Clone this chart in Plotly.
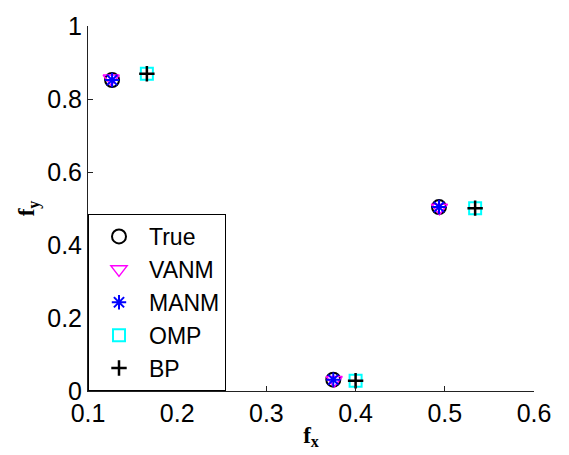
import plotly.graph_objects as go

names = ["True", "VANM", "MANM", "OMP", "BP"]
fx_true = [0.127, 0.375, 0.4935]
fy_true = [0.852, 0.031, 0.504]
fx_vanm = [0.126, 0.376, 0.494]
fy_vanm = [0.856, 0.030, 0.502]
fx_manm = [0.127, 0.375, 0.4935]
fy_manm = [0.852, 0.031, 0.504]
fx_omp = [0.166, 0.400, 0.534]
fy_omp = [0.869, 0.028, 0.501]
fx_bp = [0.166, 0.400, 0.534]
fy_bp = [0.869, 0.028, 0.501]

styles = [
    dict(symbol="circle-open", color="black", size=14, line=dict(width=2, color="black")),
    dict(symbol="triangle-down-open", color="magenta", size=14, line=dict(width=1.5, color="magenta")),
    dict(symbol="asterisk-open", color="blue", size=12, line=dict(width=2, color="blue")),
    dict(symbol="square-open", color="cyan", size=12, line=dict(width=2, color="cyan")),
    dict(symbol="cross-thin-open", color="black", size=11, line=dict(width=2.5, color="black")),
]
xs = [fx_true, fx_vanm, fx_manm, fx_omp, fx_bp]
ys = [fy_true, fy_vanm, fy_manm, fy_omp, fy_bp]

fig = go.Figure()
for n, x, y, st in zip(names, xs, ys, styles):
    fig.add_trace(go.Scatter(x=x, y=y, mode="markers", name=n, marker=st))

axis_common = dict(
    showline=True, linecolor="#222", linewidth=1, mirror=False,
    ticks="inside", ticklen=5, tickcolor="#222", showgrid=False, zeroline=False,
    tickfont=dict(family="Liberation Sans, Arial", size=25, color="black"),
)
fig.update_xaxes(range=[0.1, 0.6], tickvals=[0.1, 0.2, 0.3, 0.4, 0.5, 0.6],
                 ticktext=["0.1", "0.2", "0.3", "0.4", "0.5", "0.6"],
                 title=dict(text="<b>f<sub>x</sub></b>", font=dict(family="Liberation Serif", size=23, color="black"), standoff=0),
                 **axis_common)
fig.update_yaxes(range=[0, 1], tickvals=[0, 0.2, 0.4, 0.6, 0.8, 1],
                 ticktext=["0", "0.2", "0.4", "0.6", "0.8", "1"],
                 title=dict(text="<b>f<sub>y</sub></b>", font=dict(family="Liberation Serif", size=23, color="black"), standoff=6),
                 **axis_common)

fig.update_layout(
    width=569, height=455,
    margin=dict(l=88, r=35, t=16, b=60),
    plot_bgcolor="white", paper_bgcolor="white",
    legend=dict(x=0, y=0, xanchor="left", yanchor="bottom",
                bordercolor="black", borderwidth=1, bgcolor="white",
                font=dict(family="Liberation Sans, Arial", size=23, color="black"),
                tracegroupgap=0, itemwidth=50),
)
fig.write_html("out.html")
